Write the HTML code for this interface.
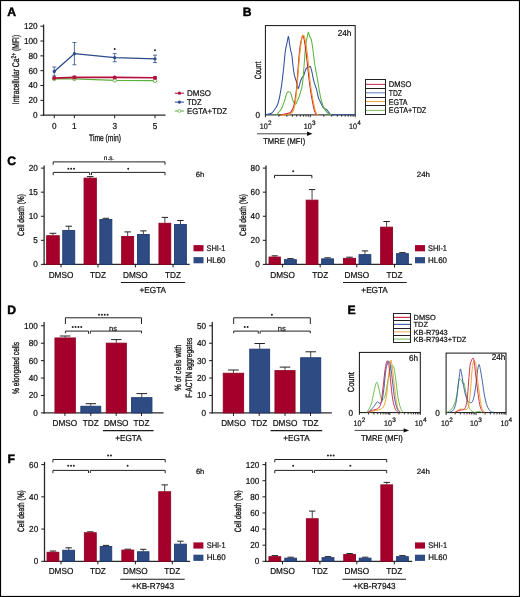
<!DOCTYPE html>
<html><head><meta charset="utf-8"><style>
html,body{margin:0;padding:0;background:#fff;}
svg{display:block;will-change:transform;}
text{font-family:"Liberation Sans",sans-serif;stroke:#111;stroke-width:0.22px;text-rendering:geometricPrecision;}
</style></head><body>
<svg width="520" height="597" viewBox="0 0 520 597">
<rect x="0.00" y="0.00" width="520.00" height="597.00" fill="#fff"/>
<text x="7.30" y="15.80" font-size="12.2" text-anchor="start" font-weight="bold" fill="#000" style="stroke:#000;stroke-width:0.45px">A</text>
<text x="242.80" y="16.20" font-size="12.2" text-anchor="start" font-weight="bold" fill="#000" style="stroke:#000;stroke-width:0.45px">B</text>
<text x="7.30" y="165.40" font-size="12.2" text-anchor="start" font-weight="bold" fill="#000" style="stroke:#000;stroke-width:0.45px">C</text>
<text x="7.30" y="314.00" font-size="12.2" text-anchor="start" font-weight="bold" fill="#000" style="stroke:#000;stroke-width:0.45px">D</text>
<text x="347.60" y="314.00" font-size="12.2" text-anchor="start" font-weight="bold" fill="#000" style="stroke:#000;stroke-width:0.45px">E</text>
<text x="7.60" y="462.50" font-size="12.2" text-anchor="start" font-weight="bold" fill="#000" style="stroke:#000;stroke-width:0.45px">F</text>
<line x1="43.60" y1="24.50" x2="43.60" y2="115.85" stroke="#2a2a2a" stroke-width="1.3"/>
<line x1="43.10" y1="115.20" x2="165.50" y2="115.20" stroke="#2a2a2a" stroke-width="1.3"/>
<line x1="40.40" y1="115.20" x2="43.60" y2="115.20" stroke="#1a1a1a" stroke-width="1.0"/>
<text x="37.60" y="118.10" font-size="8.7" text-anchor="end" font-weight="normal" fill="#111" textLength="4.56" lengthAdjust="spacingAndGlyphs">0</text>
<line x1="40.40" y1="100.37" x2="43.60" y2="100.37" stroke="#1a1a1a" stroke-width="1.0"/>
<text x="37.60" y="103.27" font-size="8.7" text-anchor="end" font-weight="normal" fill="#111" textLength="9.12" lengthAdjust="spacingAndGlyphs">20</text>
<line x1="40.40" y1="85.53" x2="43.60" y2="85.53" stroke="#1a1a1a" stroke-width="1.0"/>
<text x="37.60" y="88.43" font-size="8.7" text-anchor="end" font-weight="normal" fill="#111" textLength="9.12" lengthAdjust="spacingAndGlyphs">40</text>
<line x1="40.40" y1="70.70" x2="43.60" y2="70.70" stroke="#1a1a1a" stroke-width="1.0"/>
<text x="37.60" y="73.60" font-size="8.7" text-anchor="end" font-weight="normal" fill="#111" textLength="9.12" lengthAdjust="spacingAndGlyphs">60</text>
<line x1="40.40" y1="55.87" x2="43.60" y2="55.87" stroke="#1a1a1a" stroke-width="1.0"/>
<text x="37.60" y="58.77" font-size="8.7" text-anchor="end" font-weight="normal" fill="#111" textLength="9.12" lengthAdjust="spacingAndGlyphs">80</text>
<line x1="40.40" y1="41.03" x2="43.60" y2="41.03" stroke="#1a1a1a" stroke-width="1.0"/>
<text x="37.60" y="43.93" font-size="8.7" text-anchor="end" font-weight="normal" fill="#111" textLength="13.68" lengthAdjust="spacingAndGlyphs">100</text>
<line x1="40.40" y1="26.20" x2="43.60" y2="26.20" stroke="#1a1a1a" stroke-width="1.0"/>
<text x="37.60" y="29.10" font-size="8.7" text-anchor="end" font-weight="normal" fill="#111" textLength="13.68" lengthAdjust="spacingAndGlyphs">120</text>
<line x1="54.25" y1="115.20" x2="54.25" y2="118.20" stroke="#1a1a1a" stroke-width="1.0"/>
<text x="54.25" y="128.80" font-size="8.7" text-anchor="middle" font-weight="normal" fill="#111" textLength="4.56" lengthAdjust="spacingAndGlyphs">0</text>
<line x1="74.40" y1="115.20" x2="74.40" y2="118.20" stroke="#1a1a1a" stroke-width="1.0"/>
<text x="74.40" y="128.80" font-size="8.7" text-anchor="middle" font-weight="normal" fill="#111" textLength="4.56" lengthAdjust="spacingAndGlyphs">1</text>
<line x1="114.70" y1="115.20" x2="114.70" y2="118.20" stroke="#1a1a1a" stroke-width="1.0"/>
<text x="114.70" y="128.80" font-size="8.7" text-anchor="middle" font-weight="normal" fill="#111" textLength="4.56" lengthAdjust="spacingAndGlyphs">3</text>
<line x1="155.00" y1="115.20" x2="155.00" y2="118.20" stroke="#1a1a1a" stroke-width="1.0"/>
<text x="155.00" y="128.80" font-size="8.7" text-anchor="middle" font-weight="normal" fill="#111" textLength="4.56" lengthAdjust="spacingAndGlyphs">5</text>
<text x="105.00" y="141.20" font-size="9.4" text-anchor="middle" font-weight="normal" fill="#111" textLength="31.8" lengthAdjust="spacingAndGlyphs" style="stroke-width:0.3px">Time (min)</text>
<text x="19.4" y="69.5" font-size="9.6" text-anchor="middle" fill="#111" transform="rotate(-90 19.4 69.5)" style="stroke-width:0.3px" textLength="69.4" lengthAdjust="spacingAndGlyphs">Intracellular Ca<tspan font-size="6.8" dy="-3.6">2+</tspan><tspan dy="3.6"> (MFI)</tspan></text>
<polyline points="54.25,78.86 74.40,78.86 114.70,80.34 155.00,80.71" fill="none" stroke="#5cb040" stroke-width="1.3" stroke-linejoin="round"/>
<polyline points="54.25,78.12 74.40,77.38 114.70,77.38 155.00,77.75" fill="none" stroke="#b3123c" stroke-width="1.6" stroke-linejoin="round"/>
<polyline points="54.25,71.44 74.40,53.64 114.70,57.72 155.00,58.83" fill="none" stroke="#2b4a8a" stroke-width="1.3" stroke-linejoin="round"/>
<line x1="54.25" y1="75.89" x2="54.25" y2="66.99" stroke="#2b4a8a" stroke-width="0.8"/>
<line x1="52.25" y1="75.89" x2="56.25" y2="75.89" stroke="#2b4a8a" stroke-width="0.8"/>
<line x1="52.25" y1="66.99" x2="56.25" y2="66.99" stroke="#2b4a8a" stroke-width="0.8"/>
<circle cx="54.25" cy="71.44" r="1.6" fill="#2b4a8a"/>
<line x1="74.40" y1="64.77" x2="74.40" y2="42.52" stroke="#2b4a8a" stroke-width="0.8"/>
<line x1="72.40" y1="64.77" x2="76.40" y2="64.77" stroke="#2b4a8a" stroke-width="0.8"/>
<line x1="72.40" y1="42.52" x2="76.40" y2="42.52" stroke="#2b4a8a" stroke-width="0.8"/>
<circle cx="74.40" cy="53.64" r="1.6" fill="#2b4a8a"/>
<line x1="114.70" y1="61.80" x2="114.70" y2="53.64" stroke="#2b4a8a" stroke-width="0.8"/>
<line x1="112.70" y1="61.80" x2="116.70" y2="61.80" stroke="#2b4a8a" stroke-width="0.8"/>
<line x1="112.70" y1="53.64" x2="116.70" y2="53.64" stroke="#2b4a8a" stroke-width="0.8"/>
<circle cx="114.70" cy="57.72" r="1.6" fill="#2b4a8a"/>
<line x1="155.00" y1="62.54" x2="155.00" y2="55.12" stroke="#2b4a8a" stroke-width="0.8"/>
<line x1="153.00" y1="62.54" x2="157.00" y2="62.54" stroke="#2b4a8a" stroke-width="0.8"/>
<line x1="153.00" y1="55.12" x2="157.00" y2="55.12" stroke="#2b4a8a" stroke-width="0.8"/>
<circle cx="155.00" cy="58.83" r="1.6" fill="#2b4a8a"/>
<circle cx="54.25" cy="78.86" r="1.8" fill="#fff" stroke="#5cb040" stroke-width="0.9"/>
<circle cx="74.40" cy="78.86" r="1.8" fill="#fff" stroke="#5cb040" stroke-width="0.9"/>
<circle cx="114.70" cy="80.34" r="1.8" fill="#fff" stroke="#5cb040" stroke-width="0.9"/>
<circle cx="155.00" cy="80.71" r="1.8" fill="#fff" stroke="#5cb040" stroke-width="0.9"/>
<line x1="74.40" y1="76.19" x2="74.40" y2="78.56" stroke="#b3123c" stroke-width="1.0"/>
<line x1="72.60" y1="76.19" x2="76.20" y2="76.19" stroke="#b3123c" stroke-width="1.1"/>
<line x1="72.60" y1="78.56" x2="76.20" y2="78.56" stroke="#b3123c" stroke-width="1.1"/>
<line x1="155.00" y1="76.71" x2="155.00" y2="78.78" stroke="#b3123c" stroke-width="1.0"/>
<line x1="153.20" y1="76.71" x2="156.80" y2="76.71" stroke="#b3123c" stroke-width="1.1"/>
<line x1="153.20" y1="78.78" x2="156.80" y2="78.78" stroke="#b3123c" stroke-width="1.1"/>
<circle cx="54.25" cy="78.12" r="2.0" fill="#b3123c"/>
<circle cx="74.40" cy="77.38" r="2.0" fill="#b3123c"/>
<circle cx="114.70" cy="77.38" r="2.0" fill="#b3123c"/>
<circle cx="155.00" cy="77.75" r="2.0" fill="#b3123c"/>
<circle cx="114.70" cy="48.90" r="1.0" fill="#222"/>
<circle cx="155.00" cy="50.20" r="1.0" fill="#222"/>
<line x1="174.80" y1="93.20" x2="184.00" y2="93.20" stroke="#b3123c" stroke-width="1.0"/>
<circle cx="179.4" cy="93.2" r="1.6" fill="#b3123c"/>
<text x="187.00" y="96.10" font-size="8.2" text-anchor="start" font-weight="normal" fill="#111" textLength="24" lengthAdjust="spacingAndGlyphs">DMSO</text>
<line x1="174.80" y1="102.10" x2="184.00" y2="102.10" stroke="#2b4a8a" stroke-width="1.0"/>
<circle cx="179.4" cy="102.10000000000001" r="1.6" fill="#2b4a8a"/>
<text x="187.00" y="105.00" font-size="8.2" text-anchor="start" font-weight="normal" fill="#111" textLength="14.5" lengthAdjust="spacingAndGlyphs">TDZ</text>
<line x1="174.80" y1="111.00" x2="184.00" y2="111.00" stroke="#5cb040" stroke-width="1.0"/>
<circle cx="179.4" cy="111.0" r="1.5" fill="#fff" stroke="#5cb040" stroke-width="0.7"/>
<text x="187.00" y="113.90" font-size="8.2" text-anchor="start" font-weight="normal" fill="#111" textLength="40" lengthAdjust="spacingAndGlyphs">EGTA+TDZ</text>
<rect x="265.40" y="25.60" width="89.80" height="89.30" fill="none" stroke="#111" stroke-width="1.0"/>
<path d="M265.58,114.62 C266.57,114.39 269.97,114.20 271.54,113.27 C273.11,112.34 273.88,110.80 275.00,109.04 C276.12,107.28 277.21,106.38 278.27,102.69 C279.33,99.01 280.45,92.69 281.35,86.92 C282.24,81.15 283.01,73.85 283.65,68.08 C284.29,62.31 284.58,56.76 285.19,52.31 C285.80,47.85 286.76,43.97 287.31,41.35 C287.85,38.72 288.11,36.28 288.46,36.54 C288.81,36.79 289.04,40.51 289.42,42.88 C289.81,45.26 290.35,48.65 290.77,50.77 C291.19,52.88 291.54,52.95 291.92,55.58 C292.31,58.21 292.69,63.40 293.08,66.54 C293.46,69.68 293.81,72.34 294.23,74.42 C294.65,76.51 295.10,77.47 295.58,79.04 C296.06,80.61 296.67,82.24 297.12,83.85 C297.56,85.45 297.76,88.91 298.27,88.65 C298.78,88.40 299.62,84.04 300.19,82.31 C300.77,80.58 301.19,79.33 301.73,78.27 C302.28,77.21 302.88,77.15 303.46,75.96 C304.04,74.78 304.68,72.47 305.19,71.15 C305.71,69.84 305.93,68.72 306.54,68.08 C307.15,67.44 308.21,67.56 308.85,67.31 C309.49,67.05 309.84,65.61 310.38,66.54 C310.93,67.47 311.57,70.54 312.12,72.88 C312.66,75.22 313.14,78.49 313.65,80.58 C314.17,82.66 314.68,83.78 315.19,85.38 C315.71,86.99 316.19,88.11 316.73,90.19 C317.28,92.28 317.92,96.06 318.46,97.88 C319.01,99.71 319.49,100.10 320.00,101.15 C320.51,102.21 321.03,103.17 321.54,104.23 C322.05,105.29 322.44,106.70 323.08,107.50 C323.72,108.30 324.74,108.65 325.38,109.04 C326.03,109.42 326.38,109.29 326.92,109.81 C327.47,110.32 327.98,111.31 328.65,112.12 C329.33,112.92 329.58,114.17 330.96,114.62 C332.34,115.06 332.88,114.78 336.92,114.81 C340.96,114.84 352.15,114.81 355.19,114.81" fill="none" stroke="#2f52a0" stroke-width="1.05" stroke-linejoin="round"/>
<path d="M276.35,115.00 C277.18,114.01 280.00,111.35 281.35,109.04 C282.69,106.73 283.53,103.78 284.42,101.15 C285.32,98.53 286.06,94.84 286.73,93.27 C287.40,91.70 287.79,91.73 288.46,91.73 C289.13,91.73 290.00,91.70 290.77,93.27 C291.54,94.84 292.28,99.33 293.08,101.15 C293.88,102.98 294.78,104.49 295.58,104.23 C296.38,103.97 297.12,101.44 297.88,99.62 C298.65,97.79 299.42,95.90 300.19,93.27 C300.96,90.64 301.83,88.81 302.50,83.85 C303.17,78.88 303.69,70.03 304.23,63.46 C304.78,56.89 305.26,48.91 305.77,44.42 C306.28,39.94 306.86,38.62 307.31,36.54 C307.76,34.46 308.08,31.92 308.46,31.92 C308.85,31.92 309.13,35.22 309.62,36.54 C310.10,37.85 310.80,37.69 311.35,39.81 C311.89,41.92 312.37,45.58 312.88,49.23 C313.40,52.88 313.91,58.08 314.42,61.73 C314.94,65.38 315.42,68.01 315.96,71.15 C316.51,74.29 317.15,77.40 317.69,80.58 C318.24,83.75 318.72,87.28 319.23,90.19 C319.74,93.11 320.13,95.45 320.77,98.08 C321.41,100.71 322.28,103.88 323.08,105.96 C323.88,108.04 324.65,109.26 325.58,110.58 C326.51,111.89 327.63,113.14 328.65,113.85 C329.68,114.55 331.22,114.65 331.73,114.81" fill="none" stroke="#5cb440" stroke-width="1.05" stroke-linejoin="round"/>
<path d="M279.23,115.00 C280.35,114.81 284.04,114.33 285.96,113.85 C287.88,113.37 289.46,113.43 290.77,112.12 C292.08,110.80 292.92,109.62 293.85,105.96 C294.78,102.31 295.67,95.99 296.35,90.19 C297.02,84.39 297.37,77.47 297.88,71.15 C298.40,64.84 298.91,57.28 299.42,52.31 C299.94,47.34 300.35,44.10 300.96,41.35 C301.57,38.59 302.40,35.26 303.08,35.77 C303.75,36.28 304.29,39.81 305.00,44.42 C305.71,49.04 306.54,56.89 307.31,63.46 C308.08,70.03 308.81,77.82 309.62,83.85 C310.42,89.87 311.31,95.16 312.12,99.62 C312.92,104.07 313.65,108.01 314.42,110.58 C315.19,113.14 316.35,114.26 316.73,115.00" fill="none" stroke="#c41e3e" stroke-width="1.05" stroke-linejoin="round"/>
<path d="M281.15,115.00 C282.44,114.87 286.86,114.84 288.85,114.23 C290.83,113.62 291.96,113.59 293.08,111.35 C294.20,109.10 294.87,105.42 295.58,100.77 C296.28,96.12 296.76,89.55 297.31,83.46 C297.85,77.37 298.30,70.32 298.85,64.23 C299.39,58.14 300.06,51.25 300.58,46.92 C301.09,42.60 301.41,40.19 301.92,38.27 C302.44,36.35 303.01,34.58 303.65,35.38 C304.29,36.19 305.10,39.55 305.77,43.08 C306.44,46.60 306.96,49.97 307.69,56.54 C308.43,63.11 309.23,74.81 310.19,82.50 C311.15,90.19 312.44,97.50 313.46,102.69 C314.49,107.88 315.45,111.60 316.35,113.65 C317.24,115.71 318.43,114.78 318.85,115.00" fill="none" stroke="#f39a1e" stroke-width="1.05" stroke-linejoin="round"/>
<line x1="265.40" y1="114.90" x2="265.40" y2="117.30" stroke="#1a1a1a" stroke-width="0.9"/>
<line x1="278.92" y1="114.90" x2="278.92" y2="116.70" stroke="#1a1a1a" stroke-width="0.9"/>
<line x1="286.82" y1="114.90" x2="286.82" y2="116.70" stroke="#1a1a1a" stroke-width="0.9"/>
<line x1="292.43" y1="114.90" x2="292.43" y2="116.70" stroke="#1a1a1a" stroke-width="0.9"/>
<line x1="296.78" y1="114.90" x2="296.78" y2="116.70" stroke="#1a1a1a" stroke-width="0.9"/>
<line x1="300.34" y1="114.90" x2="300.34" y2="116.70" stroke="#1a1a1a" stroke-width="0.9"/>
<line x1="303.34" y1="114.90" x2="303.34" y2="116.70" stroke="#1a1a1a" stroke-width="0.9"/>
<line x1="305.95" y1="114.90" x2="305.95" y2="116.70" stroke="#1a1a1a" stroke-width="0.9"/>
<line x1="308.25" y1="114.90" x2="308.25" y2="116.70" stroke="#1a1a1a" stroke-width="0.9"/>
<line x1="310.30" y1="114.90" x2="310.30" y2="117.30" stroke="#1a1a1a" stroke-width="0.9"/>
<line x1="323.82" y1="114.90" x2="323.82" y2="116.70" stroke="#1a1a1a" stroke-width="0.9"/>
<line x1="331.72" y1="114.90" x2="331.72" y2="116.70" stroke="#1a1a1a" stroke-width="0.9"/>
<line x1="337.33" y1="114.90" x2="337.33" y2="116.70" stroke="#1a1a1a" stroke-width="0.9"/>
<line x1="341.68" y1="114.90" x2="341.68" y2="116.70" stroke="#1a1a1a" stroke-width="0.9"/>
<line x1="345.24" y1="114.90" x2="345.24" y2="116.70" stroke="#1a1a1a" stroke-width="0.9"/>
<line x1="348.24" y1="114.90" x2="348.24" y2="116.70" stroke="#1a1a1a" stroke-width="0.9"/>
<line x1="350.85" y1="114.90" x2="350.85" y2="116.70" stroke="#1a1a1a" stroke-width="0.9"/>
<line x1="353.15" y1="114.90" x2="353.15" y2="116.70" stroke="#1a1a1a" stroke-width="0.9"/>
<line x1="355.20" y1="114.90" x2="355.20" y2="117.30" stroke="#1a1a1a" stroke-width="0.9"/>
<text x="344.60" y="36.30" font-size="8.7" text-anchor="middle" font-weight="normal" fill="#111" textLength="13.68" lengthAdjust="spacingAndGlyphs">24h</text>
<text x="261.20" y="70.50" font-size="9.0" text-anchor="middle" font-weight="normal" fill="#111" textLength="17.6" lengthAdjust="spacingAndGlyphs" transform="rotate(-90 261.20 70.50)" style="stroke-width:0.3px">Count</text>
<text x="257.80" y="118.00" font-size="8.7" text-anchor="middle" font-weight="normal" fill="#111" textLength="4.56" lengthAdjust="spacingAndGlyphs">0</text>
<text x="267.80" y="128.80" font-size="8.0" text-anchor="end" font-weight="normal" fill="#111" textLength="8.0" lengthAdjust="spacingAndGlyphs">10</text>
<text x="268.00" y="125.10" font-size="6.4" text-anchor="start" font-weight="normal" fill="#111">2</text>
<text x="311.80" y="128.80" font-size="8.0" text-anchor="end" font-weight="normal" fill="#111" textLength="8.0" lengthAdjust="spacingAndGlyphs">10</text>
<text x="312.00" y="125.10" font-size="6.4" text-anchor="start" font-weight="normal" fill="#111">3</text>
<text x="357.00" y="128.80" font-size="8.0" text-anchor="end" font-weight="normal" fill="#111" textLength="8.0" lengthAdjust="spacingAndGlyphs">10</text>
<text x="357.20" y="125.10" font-size="6.4" text-anchor="start" font-weight="normal" fill="#111">4</text>
<line x1="257.00" y1="133.80" x2="310.00" y2="133.80" stroke="#1a1a1a" stroke-width="0.8"/>
<polygon points="312.5,133.8 307,131.6 307,136" fill="#111"/>
<text x="284.20" y="144.00" font-size="8.2" text-anchor="middle" font-weight="normal" fill="#111" textLength="42" lengthAdjust="spacingAndGlyphs">TMRE (MFI)</text>
<rect x="365.5" y="79.5" width="20.0" height="35.0" fill="none" stroke="#222" stroke-width="1.0"/>
<line x1="365.50" y1="88.50" x2="385.50" y2="88.50" stroke="#222" stroke-width="1.0"/>
<line x1="365.50" y1="97.50" x2="385.50" y2="97.50" stroke="#222" stroke-width="1.0"/>
<line x1="365.50" y1="105.50" x2="385.50" y2="105.50" stroke="#222" stroke-width="1.0"/>
<line x1="366.00" y1="84.40" x2="385.00" y2="84.40" stroke="#c83a60" stroke-width="1.1"/>
<text x="388.80" y="87.20" font-size="8.2" text-anchor="start" font-weight="normal" fill="#111" textLength="22.7" lengthAdjust="spacingAndGlyphs">DMSO</text>
<line x1="366.00" y1="92.80" x2="385.00" y2="92.80" stroke="#6a88c0" stroke-width="1.1"/>
<text x="388.80" y="96.20" font-size="8.2" text-anchor="start" font-weight="normal" fill="#111" textLength="13" lengthAdjust="spacingAndGlyphs">TDZ</text>
<line x1="366.00" y1="101.50" x2="385.00" y2="101.50" stroke="#f0a440" stroke-width="1.1"/>
<text x="388.80" y="104.70" font-size="8.2" text-anchor="start" font-weight="normal" fill="#111" textLength="18.8" lengthAdjust="spacingAndGlyphs">EGTA</text>
<line x1="366.00" y1="110.40" x2="385.00" y2="110.40" stroke="#88c070" stroke-width="1.1"/>
<text x="388.80" y="113.20" font-size="8.2" text-anchor="start" font-weight="normal" fill="#111" textLength="37.5" lengthAdjust="spacingAndGlyphs">EGTA+TDZ</text>
<line x1="44.10" y1="165.50" x2="44.10" y2="265.05" stroke="#2a2a2a" stroke-width="1.3"/>
<line x1="43.60" y1="264.40" x2="189.70" y2="264.40" stroke="#2a2a2a" stroke-width="1.3"/>
<line x1="40.90" y1="264.40" x2="44.10" y2="264.40" stroke="#1a1a1a" stroke-width="1.0"/>
<text x="37.80" y="267.30" font-size="8.7" text-anchor="end" font-weight="normal" fill="#111" textLength="4.56" lengthAdjust="spacingAndGlyphs">0</text>
<line x1="40.90" y1="240.32" x2="44.10" y2="240.32" stroke="#1a1a1a" stroke-width="1.0"/>
<text x="37.80" y="243.22" font-size="8.7" text-anchor="end" font-weight="normal" fill="#111" textLength="4.56" lengthAdjust="spacingAndGlyphs">5</text>
<line x1="40.90" y1="216.25" x2="44.10" y2="216.25" stroke="#1a1a1a" stroke-width="1.0"/>
<text x="37.80" y="219.15" font-size="8.7" text-anchor="end" font-weight="normal" fill="#111" textLength="9.12" lengthAdjust="spacingAndGlyphs">10</text>
<line x1="40.90" y1="192.17" x2="44.10" y2="192.17" stroke="#1a1a1a" stroke-width="1.0"/>
<text x="37.80" y="195.07" font-size="8.7" text-anchor="end" font-weight="normal" fill="#111" textLength="9.12" lengthAdjust="spacingAndGlyphs">15</text>
<line x1="40.90" y1="168.10" x2="44.10" y2="168.10" stroke="#1a1a1a" stroke-width="1.0"/>
<text x="37.80" y="171.00" font-size="8.7" text-anchor="end" font-weight="normal" fill="#111" textLength="9.12" lengthAdjust="spacingAndGlyphs">20</text>
<text x="23.60" y="215.00" font-size="9.2" text-anchor="middle" font-weight="normal" fill="#111" textLength="41.8" lengthAdjust="spacingAndGlyphs" transform="rotate(-90 23.60 215.00)" style="stroke-width:0.3px">Cell death (%)</text>
<line x1="52.95" y1="233.30" x2="52.95" y2="235.30" stroke="#333" stroke-width="0.9"/>
<line x1="49.58" y1="233.30" x2="56.33" y2="233.30" stroke="#222" stroke-width="1.0"/>
<rect x="46.65" y="235.75" width="12.60" height="28.65" fill="#a4002b" stroke="#920022" stroke-width="0.9"/>
<line x1="68.75" y1="226.20" x2="68.75" y2="230.10" stroke="#333" stroke-width="0.9"/>
<line x1="65.53" y1="226.20" x2="71.97" y2="226.20" stroke="#222" stroke-width="1.0"/>
<rect x="62.75" y="230.55" width="12.00" height="33.85" fill="#2e4b84" stroke="#1f3a72" stroke-width="0.9"/>
<line x1="90.20" y1="176.60" x2="90.20" y2="177.70" stroke="#333" stroke-width="0.9"/>
<line x1="86.90" y1="176.60" x2="93.50" y2="176.60" stroke="#222" stroke-width="1.0"/>
<rect x="84.05" y="178.15" width="12.30" height="86.25" fill="#a4002b" stroke="#920022" stroke-width="0.9"/>
<line x1="105.85" y1="218.30" x2="105.85" y2="219.00" stroke="#333" stroke-width="0.9"/>
<line x1="102.62" y1="218.30" x2="109.07" y2="218.30" stroke="#222" stroke-width="1.0"/>
<rect x="99.85" y="219.45" width="12.00" height="44.95" fill="#2e4b84" stroke="#1f3a72" stroke-width="0.9"/>
<line x1="127.65" y1="231.90" x2="127.65" y2="236.10" stroke="#333" stroke-width="0.9"/>
<line x1="124.43" y1="231.90" x2="130.88" y2="231.90" stroke="#222" stroke-width="1.0"/>
<rect x="121.65" y="236.55" width="12.00" height="27.85" fill="#a4002b" stroke="#920022" stroke-width="0.9"/>
<line x1="143.35" y1="230.90" x2="143.35" y2="234.00" stroke="#333" stroke-width="0.9"/>
<line x1="140.18" y1="230.90" x2="146.52" y2="230.90" stroke="#222" stroke-width="1.0"/>
<rect x="137.45" y="234.45" width="11.80" height="29.95" fill="#2e4b84" stroke="#1f3a72" stroke-width="0.9"/>
<line x1="164.85" y1="217.40" x2="164.85" y2="222.80" stroke="#333" stroke-width="0.9"/>
<line x1="161.68" y1="217.40" x2="168.02" y2="217.40" stroke="#222" stroke-width="1.0"/>
<rect x="158.95" y="223.25" width="11.80" height="41.15" fill="#a4002b" stroke="#920022" stroke-width="0.9"/>
<line x1="180.45" y1="220.50" x2="180.45" y2="224.10" stroke="#333" stroke-width="0.9"/>
<line x1="177.27" y1="220.50" x2="183.62" y2="220.50" stroke="#222" stroke-width="1.0"/>
<rect x="174.55" y="224.55" width="11.80" height="39.85" fill="#2e4b84" stroke="#1f3a72" stroke-width="0.9"/>
<line x1="61.00" y1="264.40" x2="61.00" y2="267.40" stroke="#1a1a1a" stroke-width="1.0"/>
<line x1="98.00" y1="264.40" x2="98.00" y2="267.40" stroke="#1a1a1a" stroke-width="1.0"/>
<line x1="135.40" y1="264.40" x2="135.40" y2="267.40" stroke="#1a1a1a" stroke-width="1.0"/>
<line x1="173.00" y1="264.40" x2="173.00" y2="267.40" stroke="#1a1a1a" stroke-width="1.0"/>
<text x="61.00" y="278.10" font-size="8.7" text-anchor="middle" font-weight="normal" fill="#111" textLength="24.6" lengthAdjust="spacingAndGlyphs">DMSO</text>
<text x="98.00" y="278.10" font-size="8.7" text-anchor="middle" font-weight="normal" fill="#111" textLength="15.94" lengthAdjust="spacingAndGlyphs">TDZ</text>
<text x="135.40" y="278.10" font-size="8.7" text-anchor="middle" font-weight="normal" fill="#111" textLength="24.6" lengthAdjust="spacingAndGlyphs">DMSO</text>
<text x="173.00" y="278.10" font-size="8.7" text-anchor="middle" font-weight="normal" fill="#111" textLength="15.94" lengthAdjust="spacingAndGlyphs">TDZ</text>
<line x1="120.90" y1="282.50" x2="185.20" y2="282.50" stroke="#1a1a1a" stroke-width="1.0"/>
<text x="152.80" y="292.60" font-size="8.7" text-anchor="middle" font-weight="normal" fill="#111" textLength="26.51" lengthAdjust="spacingAndGlyphs">+EGTA</text>
<path d="M53.20,164.70 L53.20,161.90 L165.00,161.90 L165.00,164.70" fill="none" stroke="#222" stroke-width="1.0"/>
<text x="109.00" y="159.90" font-size="6.4" text-anchor="middle" font-weight="normal" fill="#222">n.s.</text>
<path d="M53.20,175.20 L53.20,172.40 L89.70,172.40 L89.70,175.00 M91.50,175.00 L91.50,172.40 L165.00,172.40 L165.00,175.20" fill="none" stroke="#222" stroke-width="1.0"/>
<circle cx="68.35" cy="168.70" r="1.0" fill="#222"/>
<circle cx="71.20" cy="168.70" r="1.0" fill="#222"/>
<circle cx="74.05" cy="168.70" r="1.0" fill="#222"/>
<circle cx="128.20" cy="168.70" r="1.0" fill="#222"/>
<text x="195.80" y="177.10" font-size="7.6" text-anchor="start" font-weight="normal" fill="#111">6h</text>
<rect x="193.50" y="245.10" width="10.00" height="6.20" fill="#a4002b"/>
<text x="206.50" y="250.70" font-size="8.2" text-anchor="start" font-weight="normal" fill="#111" textLength="19" lengthAdjust="spacingAndGlyphs">SHI-1</text>
<rect x="193.50" y="257.10" width="10.00" height="6.20" fill="#2e4b84"/>
<text x="206.50" y="262.60" font-size="8.2" text-anchor="start" font-weight="normal" fill="#111" textLength="19" lengthAdjust="spacingAndGlyphs">HL60</text>
<line x1="266.00" y1="165.50" x2="266.00" y2="265.05" stroke="#2a2a2a" stroke-width="1.3"/>
<line x1="265.50" y1="264.40" x2="411.90" y2="264.40" stroke="#2a2a2a" stroke-width="1.3"/>
<line x1="262.80" y1="264.40" x2="266.00" y2="264.40" stroke="#1a1a1a" stroke-width="1.0"/>
<text x="259.70" y="267.30" font-size="8.7" text-anchor="end" font-weight="normal" fill="#111" textLength="4.56" lengthAdjust="spacingAndGlyphs">0</text>
<line x1="262.80" y1="240.32" x2="266.00" y2="240.32" stroke="#1a1a1a" stroke-width="1.0"/>
<text x="259.70" y="243.22" font-size="8.7" text-anchor="end" font-weight="normal" fill="#111" textLength="9.12" lengthAdjust="spacingAndGlyphs">20</text>
<line x1="262.80" y1="216.25" x2="266.00" y2="216.25" stroke="#1a1a1a" stroke-width="1.0"/>
<text x="259.70" y="219.15" font-size="8.7" text-anchor="end" font-weight="normal" fill="#111" textLength="9.12" lengthAdjust="spacingAndGlyphs">40</text>
<line x1="262.80" y1="192.17" x2="266.00" y2="192.17" stroke="#1a1a1a" stroke-width="1.0"/>
<text x="259.70" y="195.07" font-size="8.7" text-anchor="end" font-weight="normal" fill="#111" textLength="9.12" lengthAdjust="spacingAndGlyphs">60</text>
<line x1="262.80" y1="168.10" x2="266.00" y2="168.10" stroke="#1a1a1a" stroke-width="1.0"/>
<text x="259.70" y="171.00" font-size="8.7" text-anchor="end" font-weight="normal" fill="#111" textLength="9.12" lengthAdjust="spacingAndGlyphs">80</text>
<text x="245.50" y="215.00" font-size="9.2" text-anchor="middle" font-weight="normal" fill="#111" textLength="41.8" lengthAdjust="spacingAndGlyphs" transform="rotate(-90 245.50 215.00)" style="stroke-width:0.3px">Cell death (%)</text>
<line x1="274.70" y1="255.80" x2="274.70" y2="256.60" stroke="#333" stroke-width="0.9"/>
<line x1="271.65" y1="255.80" x2="277.75" y2="255.80" stroke="#222" stroke-width="1.0"/>
<rect x="269.05" y="257.05" width="11.30" height="7.35" fill="#a4002b" stroke="#920022" stroke-width="0.9"/>
<line x1="290.45" y1="258.60" x2="290.45" y2="259.20" stroke="#333" stroke-width="0.9"/>
<line x1="287.28" y1="258.60" x2="293.63" y2="258.60" stroke="#222" stroke-width="1.0"/>
<rect x="284.55" y="259.65" width="11.80" height="4.75" fill="#2e4b84" stroke="#1f3a72" stroke-width="0.9"/>
<line x1="312.05" y1="189.60" x2="312.05" y2="199.70" stroke="#333" stroke-width="0.9"/>
<line x1="308.87" y1="189.60" x2="315.22" y2="189.60" stroke="#222" stroke-width="1.0"/>
<rect x="306.15" y="200.15" width="11.80" height="64.25" fill="#a4002b" stroke="#920022" stroke-width="0.9"/>
<line x1="327.60" y1="257.80" x2="327.60" y2="258.40" stroke="#333" stroke-width="0.9"/>
<line x1="324.40" y1="257.80" x2="330.80" y2="257.80" stroke="#222" stroke-width="1.0"/>
<rect x="321.65" y="258.85" width="11.90" height="5.55" fill="#2e4b84" stroke="#1f3a72" stroke-width="0.9"/>
<line x1="349.50" y1="257.20" x2="349.50" y2="257.90" stroke="#333" stroke-width="0.9"/>
<line x1="346.25" y1="257.20" x2="352.75" y2="257.20" stroke="#222" stroke-width="1.0"/>
<rect x="343.45" y="258.35" width="12.10" height="6.05" fill="#a4002b" stroke="#920022" stroke-width="0.9"/>
<line x1="364.95" y1="250.90" x2="364.95" y2="254.20" stroke="#333" stroke-width="0.9"/>
<line x1="361.78" y1="250.90" x2="368.13" y2="250.90" stroke="#222" stroke-width="1.0"/>
<rect x="359.05" y="254.65" width="11.80" height="9.75" fill="#2e4b84" stroke="#1f3a72" stroke-width="0.9"/>
<line x1="386.60" y1="221.50" x2="386.60" y2="226.70" stroke="#333" stroke-width="0.9"/>
<line x1="383.40" y1="221.50" x2="389.80" y2="221.50" stroke="#222" stroke-width="1.0"/>
<rect x="380.65" y="227.15" width="11.90" height="37.25" fill="#a4002b" stroke="#920022" stroke-width="0.9"/>
<line x1="402.45" y1="252.60" x2="402.45" y2="253.20" stroke="#333" stroke-width="0.9"/>
<line x1="399.28" y1="252.60" x2="405.63" y2="252.60" stroke="#222" stroke-width="1.0"/>
<rect x="396.55" y="253.65" width="11.80" height="10.75" fill="#2e4b84" stroke="#1f3a72" stroke-width="0.9"/>
<line x1="282.60" y1="264.40" x2="282.60" y2="267.40" stroke="#1a1a1a" stroke-width="1.0"/>
<line x1="320.20" y1="264.40" x2="320.20" y2="267.40" stroke="#1a1a1a" stroke-width="1.0"/>
<line x1="356.80" y1="264.40" x2="356.80" y2="267.40" stroke="#1a1a1a" stroke-width="1.0"/>
<line x1="394.50" y1="264.40" x2="394.50" y2="267.40" stroke="#1a1a1a" stroke-width="1.0"/>
<text x="282.60" y="278.10" font-size="8.7" text-anchor="middle" font-weight="normal" fill="#111" textLength="24.6" lengthAdjust="spacingAndGlyphs">DMSO</text>
<text x="320.20" y="278.10" font-size="8.7" text-anchor="middle" font-weight="normal" fill="#111" textLength="15.94" lengthAdjust="spacingAndGlyphs">TDZ</text>
<text x="356.80" y="278.10" font-size="8.7" text-anchor="middle" font-weight="normal" fill="#111" textLength="24.6" lengthAdjust="spacingAndGlyphs">DMSO</text>
<text x="394.50" y="278.10" font-size="8.7" text-anchor="middle" font-weight="normal" fill="#111" textLength="15.94" lengthAdjust="spacingAndGlyphs">TDZ</text>
<line x1="343.00" y1="282.50" x2="406.70" y2="282.50" stroke="#1a1a1a" stroke-width="1.0"/>
<text x="374.60" y="292.60" font-size="8.7" text-anchor="middle" font-weight="normal" fill="#111" textLength="26.51" lengthAdjust="spacingAndGlyphs">+EGTA</text>
<path d="M274.50,178.20 L274.50,175.40 L311.90,175.40 L311.90,178.20" fill="none" stroke="#222" stroke-width="1.0"/>
<circle cx="293.20" cy="171.20" r="1.0" fill="#222"/>
<text x="416.80" y="177.10" font-size="7.6" text-anchor="start" font-weight="normal" fill="#111" textLength="13.2" lengthAdjust="spacingAndGlyphs">24h</text>
<rect x="415.00" y="245.10" width="10.00" height="6.20" fill="#a4002b"/>
<text x="428.00" y="250.70" font-size="8.2" text-anchor="start" font-weight="normal" fill="#111" textLength="19" lengthAdjust="spacingAndGlyphs">SHI-1</text>
<rect x="415.00" y="257.10" width="10.00" height="6.20" fill="#2e4b84"/>
<text x="428.00" y="262.60" font-size="8.2" text-anchor="start" font-weight="normal" fill="#111" textLength="19" lengthAdjust="spacingAndGlyphs">HL60</text>
<line x1="44.10" y1="322.00" x2="44.10" y2="413.55" stroke="#2a2a2a" stroke-width="1.3"/>
<line x1="43.60" y1="412.90" x2="163.60" y2="412.90" stroke="#2a2a2a" stroke-width="1.3"/>
<line x1="40.90" y1="412.90" x2="44.10" y2="412.90" stroke="#1a1a1a" stroke-width="1.0"/>
<text x="37.80" y="415.80" font-size="8.7" text-anchor="end" font-weight="normal" fill="#111" textLength="4.56" lengthAdjust="spacingAndGlyphs">0</text>
<line x1="40.90" y1="395.48" x2="44.10" y2="395.48" stroke="#1a1a1a" stroke-width="1.0"/>
<text x="37.80" y="398.38" font-size="8.7" text-anchor="end" font-weight="normal" fill="#111" textLength="9.12" lengthAdjust="spacingAndGlyphs">20</text>
<line x1="40.90" y1="378.06" x2="44.10" y2="378.06" stroke="#1a1a1a" stroke-width="1.0"/>
<text x="37.80" y="380.96" font-size="8.7" text-anchor="end" font-weight="normal" fill="#111" textLength="9.12" lengthAdjust="spacingAndGlyphs">40</text>
<line x1="40.90" y1="360.64" x2="44.10" y2="360.64" stroke="#1a1a1a" stroke-width="1.0"/>
<text x="37.80" y="363.54" font-size="8.7" text-anchor="end" font-weight="normal" fill="#111" textLength="9.12" lengthAdjust="spacingAndGlyphs">60</text>
<line x1="40.90" y1="343.22" x2="44.10" y2="343.22" stroke="#1a1a1a" stroke-width="1.0"/>
<text x="37.80" y="346.12" font-size="8.7" text-anchor="end" font-weight="normal" fill="#111" textLength="9.12" lengthAdjust="spacingAndGlyphs">80</text>
<line x1="40.90" y1="325.80" x2="44.10" y2="325.80" stroke="#1a1a1a" stroke-width="1.0"/>
<text x="37.80" y="328.70" font-size="8.7" text-anchor="end" font-weight="normal" fill="#111" textLength="13.68" lengthAdjust="spacingAndGlyphs">100</text>
<text x="18.60" y="367.90" font-size="9.4" text-anchor="middle" font-weight="normal" fill="#111" textLength="52" lengthAdjust="spacingAndGlyphs" transform="rotate(-90 18.60 367.90)" style="stroke-width:0.3px">% elongated cells</text>
<line x1="65.15" y1="336.00" x2="65.15" y2="337.50" stroke="#333" stroke-width="0.9"/>
<line x1="59.83" y1="336.00" x2="70.48" y2="336.00" stroke="#222" stroke-width="1.0"/>
<rect x="54.95" y="337.95" width="20.40" height="74.95" fill="#a4002b" stroke="#920022" stroke-width="0.9"/>
<line x1="90.80" y1="403.70" x2="90.80" y2="405.80" stroke="#333" stroke-width="0.9"/>
<line x1="85.60" y1="403.70" x2="96.00" y2="403.70" stroke="#222" stroke-width="1.0"/>
<rect x="80.85" y="406.25" width="19.90" height="6.65" fill="#2e4b84" stroke="#1f3a72" stroke-width="0.9"/>
<line x1="116.30" y1="339.60" x2="116.30" y2="342.70" stroke="#333" stroke-width="0.9"/>
<line x1="111.05" y1="339.60" x2="121.55" y2="339.60" stroke="#222" stroke-width="1.0"/>
<rect x="106.25" y="343.15" width="20.10" height="69.75" fill="#a4002b" stroke="#920022" stroke-width="0.9"/>
<line x1="141.75" y1="393.60" x2="141.75" y2="397.20" stroke="#333" stroke-width="0.9"/>
<line x1="136.43" y1="393.60" x2="147.07" y2="393.60" stroke="#222" stroke-width="1.0"/>
<rect x="131.55" y="397.65" width="20.40" height="15.25" fill="#2e4b84" stroke="#1f3a72" stroke-width="0.9"/>
<line x1="64.90" y1="412.90" x2="64.90" y2="415.90" stroke="#1a1a1a" stroke-width="1.0"/>
<line x1="90.80" y1="412.90" x2="90.80" y2="415.90" stroke="#1a1a1a" stroke-width="1.0"/>
<line x1="116.20" y1="412.90" x2="116.20" y2="415.90" stroke="#1a1a1a" stroke-width="1.0"/>
<line x1="141.50" y1="412.90" x2="141.50" y2="415.90" stroke="#1a1a1a" stroke-width="1.0"/>
<text x="64.90" y="426.20" font-size="8.7" text-anchor="middle" font-weight="normal" fill="#111" textLength="24.6" lengthAdjust="spacingAndGlyphs">DMSO</text>
<text x="90.80" y="426.20" font-size="8.7" text-anchor="middle" font-weight="normal" fill="#111" textLength="15.94" lengthAdjust="spacingAndGlyphs">TDZ</text>
<text x="116.20" y="426.20" font-size="8.7" text-anchor="middle" font-weight="normal" fill="#111" textLength="24.6" lengthAdjust="spacingAndGlyphs">DMSO</text>
<text x="141.50" y="426.20" font-size="8.7" text-anchor="middle" font-weight="normal" fill="#111" textLength="15.94" lengthAdjust="spacingAndGlyphs">TDZ</text>
<line x1="102.90" y1="430.60" x2="153.60" y2="430.60" stroke="#1a1a1a" stroke-width="1.1"/>
<text x="128.50" y="440.90" font-size="8.7" text-anchor="middle" font-weight="normal" fill="#111" textLength="26.51" lengthAdjust="spacingAndGlyphs">+EGTA</text>
<path d="M65.40,324.00 L65.40,317.80 L141.50,317.80 L141.50,324.00" fill="none" stroke="#222" stroke-width="1.0"/>
<circle cx="99.02" cy="314.70" r="1.0" fill="#222"/>
<circle cx="101.88" cy="314.70" r="1.0" fill="#222"/>
<circle cx="104.72" cy="314.70" r="1.0" fill="#222"/>
<circle cx="107.58" cy="314.70" r="1.0" fill="#222"/>
<path d="M65.40,333.30 L65.40,331.10 L88.50,331.10 L88.50,333.70 M90.30,333.70 L90.30,331.10 L141.50,331.10 L141.50,333.30" fill="none" stroke="#222" stroke-width="1.0"/>
<circle cx="72.72" cy="326.90" r="1.0" fill="#222"/>
<circle cx="75.58" cy="326.90" r="1.0" fill="#222"/>
<circle cx="78.42" cy="326.90" r="1.0" fill="#222"/>
<circle cx="81.28" cy="326.90" r="1.0" fill="#222"/>
<text x="113.00" y="330.60" font-size="7.6" text-anchor="middle" font-weight="normal" fill="#222">ns</text>
<line x1="212.30" y1="322.00" x2="212.30" y2="413.55" stroke="#2a2a2a" stroke-width="1.3"/>
<line x1="211.80" y1="412.90" x2="331.80" y2="412.90" stroke="#2a2a2a" stroke-width="1.3"/>
<line x1="209.10" y1="412.90" x2="212.30" y2="412.90" stroke="#1a1a1a" stroke-width="1.0"/>
<text x="206.00" y="415.80" font-size="8.7" text-anchor="end" font-weight="normal" fill="#111" textLength="4.56" lengthAdjust="spacingAndGlyphs">0</text>
<line x1="209.10" y1="395.48" x2="212.30" y2="395.48" stroke="#1a1a1a" stroke-width="1.0"/>
<text x="206.00" y="398.38" font-size="8.7" text-anchor="end" font-weight="normal" fill="#111" textLength="9.12" lengthAdjust="spacingAndGlyphs">10</text>
<line x1="209.10" y1="378.06" x2="212.30" y2="378.06" stroke="#1a1a1a" stroke-width="1.0"/>
<text x="206.00" y="380.96" font-size="8.7" text-anchor="end" font-weight="normal" fill="#111" textLength="9.12" lengthAdjust="spacingAndGlyphs">20</text>
<line x1="209.10" y1="360.64" x2="212.30" y2="360.64" stroke="#1a1a1a" stroke-width="1.0"/>
<text x="206.00" y="363.54" font-size="8.7" text-anchor="end" font-weight="normal" fill="#111" textLength="9.12" lengthAdjust="spacingAndGlyphs">30</text>
<line x1="209.10" y1="343.22" x2="212.30" y2="343.22" stroke="#1a1a1a" stroke-width="1.0"/>
<text x="206.00" y="346.12" font-size="8.7" text-anchor="end" font-weight="normal" fill="#111" textLength="9.12" lengthAdjust="spacingAndGlyphs">40</text>
<line x1="209.10" y1="325.80" x2="212.30" y2="325.80" stroke="#1a1a1a" stroke-width="1.0"/>
<text x="206.00" y="328.70" font-size="8.7" text-anchor="end" font-weight="normal" fill="#111" textLength="9.12" lengthAdjust="spacingAndGlyphs">50</text>
<text x="180.80" y="367.70" font-size="9.2" text-anchor="middle" font-weight="normal" fill="#111" textLength="46" lengthAdjust="spacingAndGlyphs" transform="rotate(-90 180.80 367.70)" style="stroke-width:0.3px">% of cells with</text>
<text x="192.50" y="367.70" font-size="9.2" text-anchor="middle" font-weight="normal" fill="#111" textLength="60" lengthAdjust="spacingAndGlyphs" transform="rotate(-90 192.50 367.70)" style="stroke-width:0.3px">F-ACTIN aggregates</text>
<line x1="233.45" y1="370.00" x2="233.45" y2="372.80" stroke="#333" stroke-width="0.9"/>
<line x1="228.12" y1="370.00" x2="238.77" y2="370.00" stroke="#222" stroke-width="1.0"/>
<rect x="223.25" y="373.25" width="20.40" height="39.65" fill="#a4002b" stroke="#920022" stroke-width="0.9"/>
<line x1="259.70" y1="343.50" x2="259.70" y2="348.70" stroke="#333" stroke-width="0.9"/>
<line x1="254.50" y1="343.50" x2="264.90" y2="343.50" stroke="#222" stroke-width="1.0"/>
<rect x="249.75" y="349.15" width="19.90" height="63.75" fill="#2e4b84" stroke="#1f3a72" stroke-width="0.9"/>
<line x1="285.00" y1="367.10" x2="285.00" y2="370.20" stroke="#333" stroke-width="0.9"/>
<line x1="279.75" y1="367.10" x2="290.25" y2="367.10" stroke="#222" stroke-width="1.0"/>
<rect x="274.95" y="370.65" width="20.10" height="42.25" fill="#a4002b" stroke="#920022" stroke-width="0.9"/>
<line x1="310.70" y1="351.80" x2="310.70" y2="357.30" stroke="#333" stroke-width="0.9"/>
<line x1="305.45" y1="351.80" x2="315.95" y2="351.80" stroke="#222" stroke-width="1.0"/>
<rect x="300.65" y="357.75" width="20.10" height="55.15" fill="#2e4b84" stroke="#1f3a72" stroke-width="0.9"/>
<line x1="233.50" y1="412.90" x2="233.50" y2="415.90" stroke="#1a1a1a" stroke-width="1.0"/>
<line x1="259.20" y1="412.90" x2="259.20" y2="415.90" stroke="#1a1a1a" stroke-width="1.0"/>
<line x1="285.00" y1="412.90" x2="285.00" y2="415.90" stroke="#1a1a1a" stroke-width="1.0"/>
<line x1="310.50" y1="412.90" x2="310.50" y2="415.90" stroke="#1a1a1a" stroke-width="1.0"/>
<text x="233.50" y="426.20" font-size="8.7" text-anchor="middle" font-weight="normal" fill="#111" textLength="24.6" lengthAdjust="spacingAndGlyphs">DMSO</text>
<text x="259.20" y="426.20" font-size="8.7" text-anchor="middle" font-weight="normal" fill="#111" textLength="15.94" lengthAdjust="spacingAndGlyphs">TDZ</text>
<text x="285.00" y="426.20" font-size="8.7" text-anchor="middle" font-weight="normal" fill="#111" textLength="24.6" lengthAdjust="spacingAndGlyphs">DMSO</text>
<text x="310.50" y="426.20" font-size="8.7" text-anchor="middle" font-weight="normal" fill="#111" textLength="15.94" lengthAdjust="spacingAndGlyphs">TDZ</text>
<line x1="270.60" y1="430.60" x2="322.20" y2="430.60" stroke="#1a1a1a" stroke-width="1.1"/>
<text x="296.50" y="440.90" font-size="8.7" text-anchor="middle" font-weight="normal" fill="#111" textLength="26.51" lengthAdjust="spacingAndGlyphs">+EGTA</text>
<path d="M233.70,324.00 L233.70,317.80 L310.30,317.80 L310.30,324.00" fill="none" stroke="#222" stroke-width="1.0"/>
<circle cx="271.90" cy="314.70" r="1.0" fill="#222"/>
<path d="M233.70,333.30 L233.70,331.10 L258.30,331.10 L258.30,333.70 M260.10,333.70 L260.10,331.10 L310.30,331.10 L310.30,333.30" fill="none" stroke="#222" stroke-width="1.0"/>
<circle cx="244.77" cy="326.90" r="1.0" fill="#222"/>
<circle cx="247.62" cy="326.90" r="1.0" fill="#222"/>
<text x="281.70" y="330.60" font-size="7.6" text-anchor="middle" font-weight="normal" fill="#222">ns</text>
<text x="354.20" y="382.20" font-size="9.0" text-anchor="middle" font-weight="normal" fill="#111" textLength="20" lengthAdjust="spacingAndGlyphs" transform="rotate(-90 354.20 382.20)" style="stroke-width:0.3px">Count</text>
<rect x="359.40" y="352.40" width="60.90" height="60.20" fill="none" stroke="#111" stroke-width="1.0"/>
<path d="M367.11,412.33 C367.79,411.03 370.03,407.85 371.15,404.53 C372.27,401.21 372.95,396.12 373.84,392.41 C374.74,388.71 375.75,383.22 376.53,382.32 C377.32,381.42 377.88,384.68 378.55,387.03 C379.23,389.39 379.90,394.32 380.57,396.45 C381.24,398.58 381.81,400.04 382.59,399.82 C383.38,399.59 384.39,398.36 385.28,395.11 C386.18,391.85 387.08,384.79 387.97,380.30 C388.87,375.82 389.99,370.66 390.67,368.19 C391.34,365.72 391.45,365.50 392.01,365.50 C392.57,365.50 393.36,365.50 394.03,368.19 C394.70,370.88 395.38,376.71 396.05,381.65 C396.72,386.58 397.28,393.31 398.07,397.80 C398.85,402.28 399.86,406.14 400.76,408.57 C401.66,410.99 403.00,411.71 403.45,412.33" fill="none" stroke="#5cb440" stroke-width="0.9" stroke-linejoin="round"/>
<path d="M368.46,412.33 C369.58,412.04 373.17,411.10 375.19,410.58 C377.21,410.07 379.11,410.02 380.57,409.24 C382.03,408.45 382.93,408.23 383.94,405.87 C384.95,403.52 385.84,400.27 386.63,395.11 C387.41,389.95 388.04,380.08 388.65,374.92 C389.25,369.76 389.86,366.62 390.26,364.15 C390.67,361.68 390.71,359.44 391.07,360.11 C391.43,360.79 391.92,364.38 392.42,368.19 C392.91,372.00 393.43,377.83 394.03,382.99 C394.64,388.15 395.38,394.88 396.05,399.14 C396.72,403.41 397.28,406.37 398.07,408.57 C398.85,410.76 400.31,411.71 400.76,412.33" fill="none" stroke="#f39a1e" stroke-width="0.9" stroke-linejoin="round"/>
<path d="M368.46,412.33 C369.36,411.37 372.38,408.30 373.84,406.55 C375.30,404.80 376.31,402.40 377.21,401.84 C378.10,401.28 378.44,403.29 379.23,403.18 C380.01,403.07 381.13,403.63 381.92,401.16 C382.70,398.70 383.26,393.65 383.94,388.38 C384.61,383.11 385.17,374.07 385.96,369.53 C386.74,365.00 387.86,361.64 388.65,361.19 C389.43,360.74 389.99,363.21 390.67,366.84 C391.34,370.48 392.01,377.61 392.69,382.99 C393.36,388.38 393.92,394.77 394.70,399.14 C395.49,403.52 396.50,407.04 397.40,409.24 C398.29,411.44 399.64,411.82 400.09,412.33" fill="none" stroke="#2f52a0" stroke-width="0.9" stroke-linejoin="round"/>
<path d="M367.79,412.33 C368.57,411.97 371.04,410.70 372.50,410.18 C373.95,409.66 375.41,409.73 376.53,409.24 C377.66,408.74 378.44,408.45 379.23,407.22 C380.01,405.99 380.57,405.42 381.24,401.84 C381.92,398.25 382.59,391.29 383.26,385.69 C383.94,380.08 384.61,372.34 385.28,368.19 C385.96,364.04 386.63,360.79 387.30,360.79 C387.97,360.79 388.76,364.71 389.32,368.19 C389.88,371.67 390.11,376.49 390.67,381.65 C391.23,386.81 391.90,394.55 392.69,399.14 C393.47,403.74 394.48,407.04 395.38,409.24 C396.27,411.44 397.62,411.82 398.07,412.33" fill="none" stroke="#c41e3e" stroke-width="0.9" stroke-linejoin="round"/>
<line x1="359.40" y1="412.60" x2="359.40" y2="415.00" stroke="#1a1a1a" stroke-width="0.9"/>
<line x1="368.57" y1="412.60" x2="368.57" y2="414.40" stroke="#1a1a1a" stroke-width="0.9"/>
<line x1="373.93" y1="412.60" x2="373.93" y2="414.40" stroke="#1a1a1a" stroke-width="0.9"/>
<line x1="377.73" y1="412.60" x2="377.73" y2="414.40" stroke="#1a1a1a" stroke-width="0.9"/>
<line x1="380.68" y1="412.60" x2="380.68" y2="414.40" stroke="#1a1a1a" stroke-width="0.9"/>
<line x1="383.09" y1="412.60" x2="383.09" y2="414.40" stroke="#1a1a1a" stroke-width="0.9"/>
<line x1="385.13" y1="412.60" x2="385.13" y2="414.40" stroke="#1a1a1a" stroke-width="0.9"/>
<line x1="386.90" y1="412.60" x2="386.90" y2="414.40" stroke="#1a1a1a" stroke-width="0.9"/>
<line x1="388.46" y1="412.60" x2="388.46" y2="414.40" stroke="#1a1a1a" stroke-width="0.9"/>
<line x1="389.85" y1="412.60" x2="389.85" y2="415.00" stroke="#1a1a1a" stroke-width="0.9"/>
<line x1="399.02" y1="412.60" x2="399.02" y2="414.40" stroke="#1a1a1a" stroke-width="0.9"/>
<line x1="404.38" y1="412.60" x2="404.38" y2="414.40" stroke="#1a1a1a" stroke-width="0.9"/>
<line x1="408.18" y1="412.60" x2="408.18" y2="414.40" stroke="#1a1a1a" stroke-width="0.9"/>
<line x1="411.13" y1="412.60" x2="411.13" y2="414.40" stroke="#1a1a1a" stroke-width="0.9"/>
<line x1="413.54" y1="412.60" x2="413.54" y2="414.40" stroke="#1a1a1a" stroke-width="0.9"/>
<line x1="415.58" y1="412.60" x2="415.58" y2="414.40" stroke="#1a1a1a" stroke-width="0.9"/>
<line x1="417.35" y1="412.60" x2="417.35" y2="414.40" stroke="#1a1a1a" stroke-width="0.9"/>
<line x1="418.91" y1="412.60" x2="418.91" y2="414.40" stroke="#1a1a1a" stroke-width="0.9"/>
<line x1="420.30" y1="412.60" x2="420.30" y2="415.00" stroke="#1a1a1a" stroke-width="0.9"/>
<text x="413.50" y="360.60" font-size="8.7" text-anchor="middle" font-weight="normal" fill="#111" textLength="9.12" lengthAdjust="spacingAndGlyphs">6h</text>
<text x="350.80" y="416.00" font-size="8.7" text-anchor="middle" font-weight="normal" fill="#111" textLength="4.56" lengthAdjust="spacingAndGlyphs">0</text>
<text x="361.50" y="425.60" font-size="8.0" text-anchor="end" font-weight="normal" fill="#111" textLength="8.0" lengthAdjust="spacingAndGlyphs">10</text>
<text x="361.70" y="421.90" font-size="6.4" text-anchor="start" font-weight="normal" fill="#111">2</text>
<text x="392.10" y="425.60" font-size="8.0" text-anchor="end" font-weight="normal" fill="#111" textLength="8.0" lengthAdjust="spacingAndGlyphs">10</text>
<text x="392.30" y="421.90" font-size="6.4" text-anchor="start" font-weight="normal" fill="#111">3</text>
<text x="422.70" y="425.60" font-size="8.0" text-anchor="end" font-weight="normal" fill="#111" textLength="8.0" lengthAdjust="spacingAndGlyphs">10</text>
<text x="422.90" y="421.90" font-size="6.4" text-anchor="start" font-weight="normal" fill="#111">4</text>
<line x1="354.60" y1="430.40" x2="406.00" y2="430.40" stroke="#1a1a1a" stroke-width="0.8"/>
<polygon points="409.1,430.4 403.6,428.2 403.6,432.6" fill="#111"/>
<text x="381.90" y="440.50" font-size="8.2" text-anchor="middle" font-weight="normal" fill="#111" textLength="42" lengthAdjust="spacingAndGlyphs">TMRE (MFI)</text>
<rect x="446.10" y="353.10" width="59.90" height="59.50" fill="none" stroke="#111" stroke-width="1.0"/>
<path d="M446.73,412.33 C447.40,411.93 449.53,411.21 450.77,409.91 C452.00,408.61 453.12,407.00 454.13,404.53 C455.14,402.06 456.04,399.14 456.82,395.11 C457.61,391.07 458.28,382.95 458.84,380.30 C459.40,377.65 459.74,379.22 460.19,379.22 C460.64,379.22 461.09,379.56 461.53,380.30 C461.98,381.04 462.43,383.17 462.88,383.67 C463.33,384.16 463.78,382.03 464.23,383.26 C464.67,384.50 465.01,387.97 465.57,391.07 C466.13,394.16 466.92,398.92 467.59,401.84 C468.26,404.75 468.82,407.00 469.61,408.57 C470.39,410.14 471.40,410.63 472.30,411.26 C473.20,411.89 473.87,412.33 474.99,412.33 C476.11,412.33 477.91,411.26 479.03,411.26 C480.15,411.26 481.27,412.15 481.72,412.33" fill="none" stroke="#5cb440" stroke-width="0.9" stroke-linejoin="round"/>
<path d="M449.42,412.33 C450.09,411.93 452.34,411.66 453.46,409.91 C454.58,408.16 455.37,405.87 456.15,401.84 C456.94,397.80 457.61,390.17 458.17,385.69 C458.73,381.20 459.13,377.72 459.52,374.92 C459.90,372.11 460.08,368.86 460.46,368.86 C460.84,368.86 461.29,372.11 461.80,374.92 C462.32,377.72 462.93,382.32 463.55,385.69 C464.18,389.05 464.90,392.64 465.57,395.11 C466.24,397.57 466.92,399.26 467.59,400.49 C468.26,401.72 468.82,402.28 469.61,402.51 C470.39,402.73 471.52,403.07 472.30,401.84 C473.09,400.60 473.65,398.47 474.32,395.11 C474.99,391.74 475.78,385.91 476.34,381.65 C476.90,377.39 477.24,372.41 477.69,369.53 C478.13,366.66 478.58,364.42 479.03,364.42 C479.48,364.42 479.82,366.66 480.38,369.53 C480.94,372.41 481.72,377.39 482.40,381.65 C483.07,385.91 483.63,391.07 484.41,395.11 C485.20,399.14 486.10,403.18 487.11,405.87 C488.12,408.57 489.35,410.18 490.47,411.26 C491.59,412.33 493.28,412.15 493.84,412.33" fill="none" stroke="#2f52a0" stroke-width="0.9" stroke-linejoin="round"/>
<path d="M454.80,412.33 C455.70,411.82 458.84,409.75 460.19,409.24 C461.53,408.72 461.76,409.24 462.88,409.24 C464.00,409.24 465.91,410.02 466.92,409.24 C467.93,408.45 468.31,408.00 468.94,404.53 C469.56,401.05 470.13,394.43 470.69,388.38 C471.25,382.32 471.76,372.79 472.30,368.19 C472.84,363.59 473.36,361.57 473.92,360.79 C474.48,360.00 475.15,361.12 475.67,363.48 C476.18,365.83 476.45,370.32 477.01,374.92 C477.57,379.52 478.36,386.13 479.03,391.07 C479.70,396.00 480.38,401.28 481.05,404.53 C481.72,407.78 482.40,409.28 483.07,410.58 C483.74,411.89 484.75,412.04 485.09,412.33" fill="none" stroke="#f39a1e" stroke-width="0.9" stroke-linejoin="round"/>
<path d="M454.80,412.33 C455.70,411.97 458.62,410.70 460.19,410.18 C461.76,409.66 463.22,410.18 464.23,409.24 C465.24,408.30 465.68,406.88 466.24,404.53 C466.81,402.17 467.14,399.59 467.59,395.11 C468.04,390.62 468.49,382.77 468.94,377.61 C469.39,372.45 469.61,367.40 470.28,364.15 C470.96,360.90 472.30,358.32 472.97,358.09 C473.65,357.87 473.87,360.00 474.32,362.80 C474.77,365.61 475.11,370.21 475.67,374.92 C476.23,379.63 477.01,386.13 477.69,391.07 C478.36,396.00 479.03,401.28 479.70,404.53 C480.38,407.78 481.05,409.28 481.72,410.58 C482.40,411.89 483.41,412.04 483.74,412.33" fill="none" stroke="#c41e3e" stroke-width="0.9" stroke-linejoin="round"/>
<line x1="446.10" y1="412.60" x2="446.10" y2="415.00" stroke="#1a1a1a" stroke-width="0.9"/>
<line x1="455.12" y1="412.60" x2="455.12" y2="414.40" stroke="#1a1a1a" stroke-width="0.9"/>
<line x1="460.39" y1="412.60" x2="460.39" y2="414.40" stroke="#1a1a1a" stroke-width="0.9"/>
<line x1="464.13" y1="412.60" x2="464.13" y2="414.40" stroke="#1a1a1a" stroke-width="0.9"/>
<line x1="467.03" y1="412.60" x2="467.03" y2="414.40" stroke="#1a1a1a" stroke-width="0.9"/>
<line x1="469.41" y1="412.60" x2="469.41" y2="414.40" stroke="#1a1a1a" stroke-width="0.9"/>
<line x1="471.41" y1="412.60" x2="471.41" y2="414.40" stroke="#1a1a1a" stroke-width="0.9"/>
<line x1="473.15" y1="412.60" x2="473.15" y2="414.40" stroke="#1a1a1a" stroke-width="0.9"/>
<line x1="474.68" y1="412.60" x2="474.68" y2="414.40" stroke="#1a1a1a" stroke-width="0.9"/>
<line x1="476.05" y1="412.60" x2="476.05" y2="415.00" stroke="#1a1a1a" stroke-width="0.9"/>
<line x1="485.07" y1="412.60" x2="485.07" y2="414.40" stroke="#1a1a1a" stroke-width="0.9"/>
<line x1="490.34" y1="412.60" x2="490.34" y2="414.40" stroke="#1a1a1a" stroke-width="0.9"/>
<line x1="494.08" y1="412.60" x2="494.08" y2="414.40" stroke="#1a1a1a" stroke-width="0.9"/>
<line x1="496.98" y1="412.60" x2="496.98" y2="414.40" stroke="#1a1a1a" stroke-width="0.9"/>
<line x1="499.36" y1="412.60" x2="499.36" y2="414.40" stroke="#1a1a1a" stroke-width="0.9"/>
<line x1="501.36" y1="412.60" x2="501.36" y2="414.40" stroke="#1a1a1a" stroke-width="0.9"/>
<line x1="503.10" y1="412.60" x2="503.10" y2="414.40" stroke="#1a1a1a" stroke-width="0.9"/>
<line x1="504.63" y1="412.60" x2="504.63" y2="414.40" stroke="#1a1a1a" stroke-width="0.9"/>
<line x1="506.00" y1="412.60" x2="506.00" y2="415.00" stroke="#1a1a1a" stroke-width="0.9"/>
<text x="498.50" y="360.30" font-size="8.7" text-anchor="middle" font-weight="normal" fill="#111" textLength="13.68" lengthAdjust="spacingAndGlyphs">24h</text>
<text x="437.50" y="416.00" font-size="8.7" text-anchor="middle" font-weight="normal" fill="#111" textLength="4.56" lengthAdjust="spacingAndGlyphs">0</text>
<text x="449.00" y="425.60" font-size="8.0" text-anchor="end" font-weight="normal" fill="#111" textLength="8.0" lengthAdjust="spacingAndGlyphs">10</text>
<text x="449.20" y="421.90" font-size="6.4" text-anchor="start" font-weight="normal" fill="#111">2</text>
<text x="478.00" y="425.60" font-size="8.0" text-anchor="end" font-weight="normal" fill="#111" textLength="8.0" lengthAdjust="spacingAndGlyphs">10</text>
<text x="478.20" y="421.90" font-size="6.4" text-anchor="start" font-weight="normal" fill="#111">3</text>
<text x="508.40" y="425.60" font-size="8.0" text-anchor="end" font-weight="normal" fill="#111" textLength="8.0" lengthAdjust="spacingAndGlyphs">10</text>
<text x="508.60" y="421.90" font-size="6.4" text-anchor="start" font-weight="normal" fill="#111">4</text>
<rect x="393.5" y="313.5" width="17.0" height="29.0" fill="none" stroke="#222" stroke-width="1.0"/>
<line x1="393.50" y1="320.50" x2="410.50" y2="320.50" stroke="#222" stroke-width="1.0"/>
<line x1="393.50" y1="328.50" x2="410.50" y2="328.50" stroke="#222" stroke-width="1.0"/>
<line x1="393.50" y1="335.50" x2="410.50" y2="335.50" stroke="#222" stroke-width="1.0"/>
<line x1="394.00" y1="317.40" x2="410.00" y2="317.40" stroke="#c83050" stroke-width="1.2"/>
<text x="413.60" y="319.80" font-size="7.4" text-anchor="start" font-weight="normal" fill="#111">DMSO</text>
<line x1="394.00" y1="324.40" x2="410.00" y2="324.40" stroke="#4a6aaa" stroke-width="1.2"/>
<text x="413.60" y="327.30" font-size="7.4" text-anchor="start" font-weight="normal" fill="#111">TDZ</text>
<line x1="394.00" y1="331.80" x2="410.00" y2="331.80" stroke="#f0c070" stroke-width="1.2"/>
<text x="413.60" y="334.80" font-size="7.4" text-anchor="start" font-weight="normal" fill="#111">KB-R7943</text>
<line x1="394.00" y1="339.10" x2="410.00" y2="339.10" stroke="#88c870" stroke-width="1.2"/>
<text x="413.60" y="341.80" font-size="7.4" text-anchor="start" font-weight="normal" fill="#111">KB-R7943+TDZ</text>
<line x1="44.50" y1="462.00" x2="44.50" y2="561.95" stroke="#2a2a2a" stroke-width="1.3"/>
<line x1="44.00" y1="561.30" x2="190.10" y2="561.30" stroke="#2a2a2a" stroke-width="1.3"/>
<line x1="41.30" y1="561.30" x2="44.50" y2="561.30" stroke="#1a1a1a" stroke-width="1.0"/>
<text x="38.20" y="564.20" font-size="8.7" text-anchor="end" font-weight="normal" fill="#111" textLength="4.56" lengthAdjust="spacingAndGlyphs">0</text>
<line x1="41.30" y1="529.07" x2="44.50" y2="529.07" stroke="#1a1a1a" stroke-width="1.0"/>
<text x="38.20" y="531.97" font-size="8.7" text-anchor="end" font-weight="normal" fill="#111" textLength="9.12" lengthAdjust="spacingAndGlyphs">20</text>
<line x1="41.30" y1="496.83" x2="44.50" y2="496.83" stroke="#1a1a1a" stroke-width="1.0"/>
<text x="38.20" y="499.73" font-size="8.7" text-anchor="end" font-weight="normal" fill="#111" textLength="9.12" lengthAdjust="spacingAndGlyphs">40</text>
<line x1="41.30" y1="464.60" x2="44.50" y2="464.60" stroke="#1a1a1a" stroke-width="1.0"/>
<text x="38.20" y="467.50" font-size="8.7" text-anchor="end" font-weight="normal" fill="#111" textLength="9.12" lengthAdjust="spacingAndGlyphs">60</text>
<text x="23.80" y="511.10" font-size="9.2" text-anchor="middle" font-weight="normal" fill="#111" textLength="41.8" lengthAdjust="spacingAndGlyphs" transform="rotate(-90 23.80 511.10)" style="stroke-width:0.3px">Cell death (%)</text>
<line x1="52.95" y1="551.00" x2="52.95" y2="551.80" stroke="#333" stroke-width="0.9"/>
<line x1="49.78" y1="551.00" x2="56.12" y2="551.00" stroke="#222" stroke-width="1.0"/>
<rect x="47.05" y="552.25" width="11.80" height="9.05" fill="#a4002b" stroke="#920022" stroke-width="0.9"/>
<line x1="68.65" y1="547.80" x2="68.65" y2="549.80" stroke="#333" stroke-width="0.9"/>
<line x1="65.48" y1="547.80" x2="71.83" y2="547.80" stroke="#222" stroke-width="1.0"/>
<rect x="62.75" y="550.25" width="11.80" height="11.05" fill="#2e4b84" stroke="#1f3a72" stroke-width="0.9"/>
<line x1="90.30" y1="531.80" x2="90.30" y2="532.30" stroke="#333" stroke-width="0.9"/>
<line x1="87.10" y1="531.80" x2="93.50" y2="531.80" stroke="#222" stroke-width="1.0"/>
<rect x="84.35" y="532.75" width="11.90" height="28.55" fill="#a4002b" stroke="#920022" stroke-width="0.9"/>
<line x1="105.95" y1="545.40" x2="105.95" y2="546.00" stroke="#333" stroke-width="0.9"/>
<line x1="102.83" y1="545.40" x2="109.08" y2="545.40" stroke="#222" stroke-width="1.0"/>
<rect x="100.15" y="546.45" width="11.60" height="14.85" fill="#2e4b84" stroke="#1f3a72" stroke-width="0.9"/>
<line x1="127.80" y1="549.20" x2="127.80" y2="549.60" stroke="#333" stroke-width="0.9"/>
<line x1="124.60" y1="549.20" x2="131.00" y2="549.20" stroke="#222" stroke-width="1.0"/>
<rect x="121.85" y="550.05" width="11.90" height="11.25" fill="#a4002b" stroke="#920022" stroke-width="0.9"/>
<line x1="143.20" y1="549.30" x2="143.20" y2="551.30" stroke="#333" stroke-width="0.9"/>
<line x1="140.10" y1="549.30" x2="146.30" y2="549.30" stroke="#222" stroke-width="1.0"/>
<rect x="137.45" y="551.75" width="11.50" height="9.55" fill="#2e4b84" stroke="#1f3a72" stroke-width="0.9"/>
<line x1="164.70" y1="484.90" x2="164.70" y2="491.30" stroke="#333" stroke-width="0.9"/>
<line x1="161.50" y1="484.90" x2="167.90" y2="484.90" stroke="#222" stroke-width="1.0"/>
<rect x="158.75" y="491.75" width="11.90" height="69.55" fill="#a4002b" stroke="#920022" stroke-width="0.9"/>
<line x1="180.45" y1="541.20" x2="180.45" y2="543.70" stroke="#333" stroke-width="0.9"/>
<line x1="177.27" y1="541.20" x2="183.62" y2="541.20" stroke="#222" stroke-width="1.0"/>
<rect x="174.55" y="544.15" width="11.80" height="17.15" fill="#2e4b84" stroke="#1f3a72" stroke-width="0.9"/>
<line x1="61.00" y1="561.30" x2="61.00" y2="564.30" stroke="#1a1a1a" stroke-width="1.0"/>
<line x1="97.90" y1="561.30" x2="97.90" y2="564.30" stroke="#1a1a1a" stroke-width="1.0"/>
<line x1="135.40" y1="561.30" x2="135.40" y2="564.30" stroke="#1a1a1a" stroke-width="1.0"/>
<line x1="172.30" y1="561.30" x2="172.30" y2="564.30" stroke="#1a1a1a" stroke-width="1.0"/>
<text x="61.00" y="574.40" font-size="8.7" text-anchor="middle" font-weight="normal" fill="#111" textLength="24.6" lengthAdjust="spacingAndGlyphs">DMSO</text>
<text x="97.90" y="574.40" font-size="8.7" text-anchor="middle" font-weight="normal" fill="#111" textLength="15.94" lengthAdjust="spacingAndGlyphs">TDZ</text>
<text x="135.40" y="574.40" font-size="8.7" text-anchor="middle" font-weight="normal" fill="#111" textLength="24.6" lengthAdjust="spacingAndGlyphs">DMSO</text>
<text x="172.30" y="574.40" font-size="8.7" text-anchor="middle" font-weight="normal" fill="#111" textLength="15.94" lengthAdjust="spacingAndGlyphs">TDZ</text>
<line x1="120.30" y1="579.20" x2="184.70" y2="579.20" stroke="#1a1a1a" stroke-width="1.1"/>
<text x="152.70" y="589.00" font-size="8.7" text-anchor="middle" font-weight="normal" fill="#111" textLength="42.62" lengthAdjust="spacingAndGlyphs">+KB-R7943</text>
<path d="M52.90,462.30 L52.90,459.50 L165.20,459.50 L165.20,462.30" fill="none" stroke="#222" stroke-width="1.0"/>
<circle cx="108.08" cy="455.40" r="1.0" fill="#222"/>
<circle cx="110.92" cy="455.40" r="1.0" fill="#222"/>
<path d="M52.90,473.20 L52.90,470.40 L88.50,470.40 L88.50,473.00 M90.30,473.00 L90.30,470.40 L165.20,470.40 L165.20,473.20" fill="none" stroke="#222" stroke-width="1.0"/>
<circle cx="68.15" cy="465.80" r="1.0" fill="#222"/>
<circle cx="71.00" cy="465.80" r="1.0" fill="#222"/>
<circle cx="73.85" cy="465.80" r="1.0" fill="#222"/>
<circle cx="127.60" cy="465.80" r="1.0" fill="#222"/>
<text x="195.90" y="474.10" font-size="7.6" text-anchor="start" font-weight="normal" fill="#111">6h</text>
<rect x="193.40" y="542.40" width="10.00" height="6.20" fill="#a4002b"/>
<text x="206.70" y="548.00" font-size="8.2" text-anchor="start" font-weight="normal" fill="#111" textLength="19" lengthAdjust="spacingAndGlyphs">SHI-1</text>
<rect x="193.40" y="554.70" width="10.00" height="6.20" fill="#2e4b84"/>
<text x="206.70" y="560.20" font-size="8.2" text-anchor="start" font-weight="normal" fill="#111" textLength="19" lengthAdjust="spacingAndGlyphs">HL60</text>
<line x1="265.70" y1="462.00" x2="265.70" y2="561.95" stroke="#2a2a2a" stroke-width="1.3"/>
<line x1="265.20" y1="561.30" x2="412.20" y2="561.30" stroke="#2a2a2a" stroke-width="1.3"/>
<line x1="262.50" y1="561.30" x2="265.70" y2="561.30" stroke="#1a1a1a" stroke-width="1.0"/>
<text x="259.40" y="564.20" font-size="8.7" text-anchor="end" font-weight="normal" fill="#111" textLength="4.56" lengthAdjust="spacingAndGlyphs">0</text>
<line x1="262.50" y1="545.18" x2="265.70" y2="545.18" stroke="#1a1a1a" stroke-width="1.0"/>
<text x="259.40" y="548.08" font-size="8.7" text-anchor="end" font-weight="normal" fill="#111" textLength="9.12" lengthAdjust="spacingAndGlyphs">20</text>
<line x1="262.50" y1="529.07" x2="265.70" y2="529.07" stroke="#1a1a1a" stroke-width="1.0"/>
<text x="259.40" y="531.97" font-size="8.7" text-anchor="end" font-weight="normal" fill="#111" textLength="9.12" lengthAdjust="spacingAndGlyphs">40</text>
<line x1="262.50" y1="512.95" x2="265.70" y2="512.95" stroke="#1a1a1a" stroke-width="1.0"/>
<text x="259.40" y="515.85" font-size="8.7" text-anchor="end" font-weight="normal" fill="#111" textLength="9.12" lengthAdjust="spacingAndGlyphs">60</text>
<line x1="262.50" y1="496.83" x2="265.70" y2="496.83" stroke="#1a1a1a" stroke-width="1.0"/>
<text x="259.40" y="499.73" font-size="8.7" text-anchor="end" font-weight="normal" fill="#111" textLength="9.12" lengthAdjust="spacingAndGlyphs">80</text>
<line x1="262.50" y1="480.72" x2="265.70" y2="480.72" stroke="#1a1a1a" stroke-width="1.0"/>
<text x="259.40" y="483.62" font-size="8.7" text-anchor="end" font-weight="normal" fill="#111" textLength="13.68" lengthAdjust="spacingAndGlyphs">100</text>
<line x1="262.50" y1="464.60" x2="265.70" y2="464.60" stroke="#1a1a1a" stroke-width="1.0"/>
<text x="259.40" y="467.50" font-size="8.7" text-anchor="end" font-weight="normal" fill="#111" textLength="13.68" lengthAdjust="spacingAndGlyphs">120</text>
<text x="240.60" y="511.30" font-size="9.2" text-anchor="middle" font-weight="normal" fill="#111" textLength="41.8" lengthAdjust="spacingAndGlyphs" transform="rotate(-90 240.60 511.30)" style="stroke-width:0.3px">Cell death (%)</text>
<line x1="274.85" y1="555.60" x2="274.85" y2="556.20" stroke="#333" stroke-width="0.9"/>
<line x1="271.68" y1="555.60" x2="278.03" y2="555.60" stroke="#222" stroke-width="1.0"/>
<rect x="268.95" y="556.65" width="11.80" height="4.65" fill="#a4002b" stroke="#920022" stroke-width="0.9"/>
<line x1="290.65" y1="557.20" x2="290.65" y2="557.70" stroke="#333" stroke-width="0.9"/>
<line x1="287.47" y1="557.20" x2="293.82" y2="557.20" stroke="#222" stroke-width="1.0"/>
<rect x="284.75" y="558.15" width="11.80" height="3.15" fill="#2e4b84" stroke="#1f3a72" stroke-width="0.9"/>
<line x1="312.25" y1="511.10" x2="312.25" y2="518.30" stroke="#333" stroke-width="0.9"/>
<line x1="309.07" y1="511.10" x2="315.43" y2="511.10" stroke="#222" stroke-width="1.0"/>
<rect x="306.35" y="518.75" width="11.80" height="42.55" fill="#a4002b" stroke="#920022" stroke-width="0.9"/>
<line x1="328.00" y1="556.60" x2="328.00" y2="557.20" stroke="#333" stroke-width="0.9"/>
<line x1="324.80" y1="556.60" x2="331.20" y2="556.60" stroke="#222" stroke-width="1.0"/>
<rect x="322.05" y="557.65" width="11.90" height="3.65" fill="#2e4b84" stroke="#1f3a72" stroke-width="0.9"/>
<line x1="349.65" y1="553.50" x2="349.65" y2="554.10" stroke="#333" stroke-width="0.9"/>
<line x1="346.47" y1="553.50" x2="352.82" y2="553.50" stroke="#222" stroke-width="1.0"/>
<rect x="343.75" y="554.55" width="11.80" height="6.75" fill="#a4002b" stroke="#920022" stroke-width="0.9"/>
<line x1="365.15" y1="557.20" x2="365.15" y2="557.70" stroke="#333" stroke-width="0.9"/>
<line x1="361.97" y1="557.20" x2="368.32" y2="557.20" stroke="#222" stroke-width="1.0"/>
<rect x="359.25" y="558.15" width="11.80" height="3.15" fill="#2e4b84" stroke="#1f3a72" stroke-width="0.9"/>
<line x1="386.75" y1="482.40" x2="386.75" y2="484.40" stroke="#333" stroke-width="0.9"/>
<line x1="383.57" y1="482.40" x2="389.93" y2="482.40" stroke="#222" stroke-width="1.0"/>
<rect x="380.85" y="484.85" width="11.80" height="76.45" fill="#a4002b" stroke="#920022" stroke-width="0.9"/>
<line x1="402.45" y1="555.60" x2="402.45" y2="556.20" stroke="#333" stroke-width="0.9"/>
<line x1="399.28" y1="555.60" x2="405.63" y2="555.60" stroke="#222" stroke-width="1.0"/>
<rect x="396.55" y="556.65" width="11.80" height="4.65" fill="#2e4b84" stroke="#1f3a72" stroke-width="0.9"/>
<line x1="282.50" y1="561.30" x2="282.50" y2="564.30" stroke="#1a1a1a" stroke-width="1.0"/>
<line x1="319.90" y1="561.30" x2="319.90" y2="564.30" stroke="#1a1a1a" stroke-width="1.0"/>
<line x1="356.80" y1="561.30" x2="356.80" y2="564.30" stroke="#1a1a1a" stroke-width="1.0"/>
<line x1="394.30" y1="561.30" x2="394.30" y2="564.30" stroke="#1a1a1a" stroke-width="1.0"/>
<text x="282.50" y="574.40" font-size="8.7" text-anchor="middle" font-weight="normal" fill="#111" textLength="24.6" lengthAdjust="spacingAndGlyphs">DMSO</text>
<text x="319.90" y="574.40" font-size="8.7" text-anchor="middle" font-weight="normal" fill="#111" textLength="15.94" lengthAdjust="spacingAndGlyphs">TDZ</text>
<text x="356.80" y="574.40" font-size="8.7" text-anchor="middle" font-weight="normal" fill="#111" textLength="24.6" lengthAdjust="spacingAndGlyphs">DMSO</text>
<text x="394.30" y="574.40" font-size="8.7" text-anchor="middle" font-weight="normal" fill="#111" textLength="15.94" lengthAdjust="spacingAndGlyphs">TDZ</text>
<line x1="342.40" y1="579.20" x2="406.00" y2="579.20" stroke="#1a1a1a" stroke-width="1.1"/>
<text x="374.30" y="589.00" font-size="8.7" text-anchor="middle" font-weight="normal" fill="#111" textLength="42.62" lengthAdjust="spacingAndGlyphs">+KB-R7943</text>
<path d="M274.80,462.30 L274.80,459.50 L386.70,459.50 L386.70,462.30" fill="none" stroke="#222" stroke-width="1.0"/>
<circle cx="327.95" cy="455.40" r="1.0" fill="#222"/>
<circle cx="330.80" cy="455.40" r="1.0" fill="#222"/>
<circle cx="333.65" cy="455.40" r="1.0" fill="#222"/>
<path d="M274.80,473.20 L274.80,470.40 L312.60,470.40 L312.60,473.00 M314.40,473.00 L314.40,470.40 L386.70,470.40 L386.70,473.20" fill="none" stroke="#222" stroke-width="1.0"/>
<circle cx="293.20" cy="465.80" r="1.0" fill="#222"/>
<circle cx="350.40" cy="465.80" r="1.0" fill="#222"/>
<text x="416.70" y="474.10" font-size="7.6" text-anchor="start" font-weight="normal" fill="#111" textLength="13.2" lengthAdjust="spacingAndGlyphs">24h</text>
<rect x="415.00" y="542.40" width="10.00" height="6.20" fill="#a4002b"/>
<text x="428.20" y="548.00" font-size="8.2" text-anchor="start" font-weight="normal" fill="#111" textLength="19" lengthAdjust="spacingAndGlyphs">SHI-1</text>
<rect x="415.00" y="554.70" width="10.00" height="6.20" fill="#2e4b84"/>
<text x="428.20" y="560.20" font-size="8.2" text-anchor="start" font-weight="normal" fill="#111" textLength="19" lengthAdjust="spacingAndGlyphs">HL60</text>
<rect x="0.5" y="0.5" width="519" height="596" fill="none" stroke="#000" stroke-width="1.2"/>
</svg></body></html>
